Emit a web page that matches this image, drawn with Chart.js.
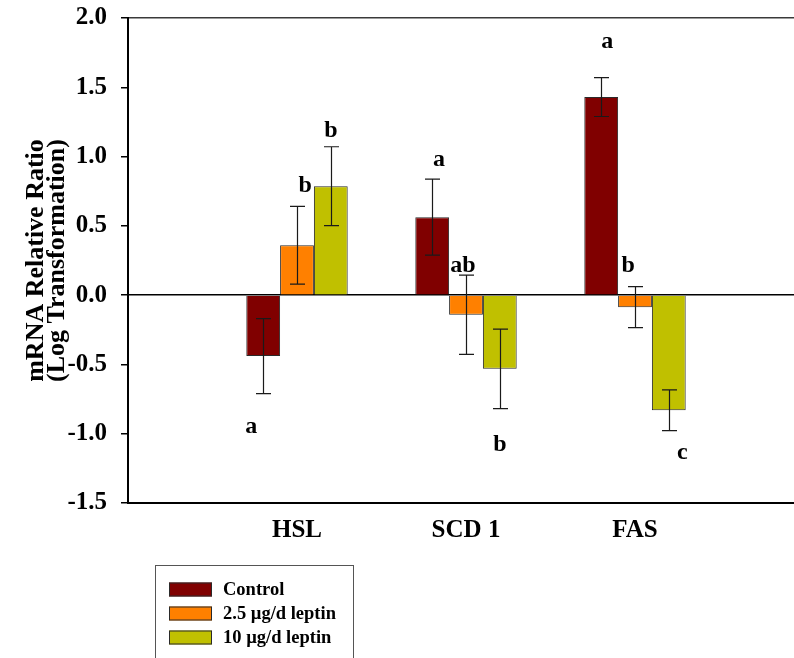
<!DOCTYPE html>
<html>
<head>
<meta charset="utf-8">
<script src="https://cdn.jsdelivr.net/npm/chart.js@4/dist/chart.umd.min.js"></script>
<style>
  html, body { margin: 0; padding: 0; background: #fff; overflow: hidden; }
  #wrap { position: absolute; left: 0; top: 0; width: 820px; height: 658px; }
</style>
</head>
<body>
<div id="wrap"><canvas id="chart" width="820" height="658"></canvas></div>
<script>
// Genes on the x axis.
var categories = ["HSL", "SCD 1", "FAS"];

// Series labels and colours.
var seriesNames = ["Control", "2.5 \u00b5g/d leptin", "10 \u00b5g/d leptin"];
var seriesColors = ["#800000", "#ff8000", "#c0c000"];

// Means (log transformation).
var controlValues = [-0.44, 0.563, 1.429];
var lowValues = [0.36, -0.142, -0.087];
var highValues = [0.786, -0.532, -0.83];

// Standard errors.
var controlErrors = [0.27, 0.274, 0.14];
var lowErrors = [0.28, 0.286, 0.148];
var highErrors = [0.285, 0.287, 0.147];

// Significance letters and the y value they sit at.
var controlLetters = ["a", "a", "a"];
var lowLetters = ["b", "ab", "b"];
var highLetters = ["b", "b", "c"];
var controlLetterY = [-0.95, 0.976, 1.828];
var lowLetterY = [0.79, 0.211, 0.211];
var highLetterY = [1.185, -1.08, -1.138];

// Y axis ticks.
var yMin = -1.5;
var yMax = 2.0;
var yStep = 0.5;

var FONT = '"Liberation Serif", "Times New Roman", serif';

// empty slot on each side, like the original plot
function pad(arr) {
  return [null].concat(arr, [null]);
}

var allValues = [controlValues, lowValues, highValues];
var allErrors = [controlErrors, lowErrors, highErrors];
var allLetters = [controlLetters, lowLetters, highLetters];
var allLetterY = [controlLetterY, lowLetterY, highLetterY];

// horizontal nudge of letters, in bar widths
var letterShift = [
  [-0.35, 0.2, 0.18],
  [0.24, -0.09, -0.2],
  [0, 0, 0.4],
];

var datasets = [];
for (var i = 0; i < allValues.length; i++) {
  datasets.push({
    label: seriesNames[i],
    data: pad(allValues[i]),
    errors: pad(allErrors[i]),
    letters: pad(allLetters[i]),
    letterY: pad(allLetterY[i]),
    backgroundColor: seriesColors[i],
    borderColor: "#2a2a2a",
    borderWidth: 1,
  });
}

// Error bars drawn over the bars.
var errorBarPlugin = {
  id: "errorBars",
  afterDatasetsDraw: function (chart) {
    var ctx = chart.ctx;
    var yScale = chart.scales.y;
    ctx.save();
    ctx.strokeStyle = "#1a1a1a";
    ctx.lineWidth = 1.2;
    chart.data.datasets.forEach(function (ds, di) {
      var meta = chart.getDatasetMeta(di);
      meta.data.forEach(function (bar, j) {
        var v = ds.data[j];
        var e = ds.errors[j];
        if (v === null || e === null) return;
        var x = Math.round(bar.x) + 0.5;
        var yTop = yScale.getPixelForValue(v + e);
        var yBot = yScale.getPixelForValue(v - e);
        var cap = 7.5;
        ctx.beginPath();
        ctx.moveTo(x, yTop);
        ctx.lineTo(x, yBot);
        ctx.moveTo(x - cap, yTop);
        ctx.lineTo(x + cap, yTop);
        ctx.moveTo(x - cap, yBot);
        ctx.lineTo(x + cap, yBot);
        ctx.stroke();
      });
    });
    ctx.restore();
  },
};

// Significance letters.
var letterPlugin = {
  id: "letters",
  afterDatasetsDraw: function (chart) {
    var ctx = chart.ctx;
    var yScale = chart.scales.y;
    ctx.save();
    ctx.fillStyle = "#000";
    ctx.font = "bold 24px " + FONT;
    ctx.textAlign = "center";
    ctx.textBaseline = "middle";
    chart.data.datasets.forEach(function (ds, di) {
      var meta = chart.getDatasetMeta(di);
      meta.data.forEach(function (bar, j) {
        var t = ds.letters[j];
        if (!t) return;
        var x = bar.x + letterShift[di][j - 1] * bar.width;
        var y = yScale.getPixelForValue(ds.letterY[j]);
        ctx.fillText(t, x, y);
      });
    });
    ctx.restore();
  },
};

// Boxed legend at the bottom left.
var legendBoxPlugin = {
  id: "legendBox",
  afterDraw: function (chart) {
    var ctx = chart.ctx;
    ctx.save();
    ctx.strokeStyle = "#555";
    ctx.lineWidth = 1;
    ctx.strokeRect(155.5, 565.5, 198, 120);
    ctx.font = "bold 18.5px " + FONT;
    ctx.textAlign = "left";
    ctx.textBaseline = "middle";
    chart.data.datasets.forEach(function (ds, i) {
      var cy = 589.5 + i * 24;
      ctx.fillStyle = ds.backgroundColor;
      ctx.fillRect(169, cy - 7, 43, 14);
      ctx.strokeStyle = "#2a2a2a";
      ctx.strokeRect(169.5, cy - 6.5, 42, 13);
      ctx.fillStyle = "#000";
      ctx.fillText(ds.label, 223, cy + 1);
    });
    ctx.restore();
  },
};

var ctx = document.getElementById("chart").getContext("2d");
new Chart(ctx, {
  type: "bar",
  data: {
    labels: pad(categories).map(function (c) { return c || ""; }),
    datasets: datasets,
  },
  options: {
    responsive: false,
    animation: false,
    layout: {
      padding: { top: 18, right: 16, left: 0, bottom: 0 },
    },
    datasets: {
      bar: {
        categoryPercentage: 0.6,
        barPercentage: 1.0,
      },
    },
    plugins: {
      legend: { display: false },
      tooltip: { enabled: false },
    },
    scales: {
      x: {
        offset: false,
        grid: { display: false, drawTicks: false },
        border: { display: true, color: "#000", width: 2 },
        ticks: {
          autoSkip: false,
          maxRotation: 0,
          padding: 13,
          color: "#000",
          font: { family: FONT, size: 25, weight: "bold" },
        },
        afterFit: function (scale) {
          scale.height = 155;
          scale.paddingLeft = 0;
          scale.paddingRight = 0;
        },
      },
      y: {
        min: yMin,
        max: yMax,
        ticks: {
          stepSize: yStep,
          padding: 14,
          color: "#000",
          font: { family: FONT, size: 25, weight: "bold" },
          callback: function (v) {
            return Number(v).toFixed(1);
          },
        },
        grid: {
          drawOnChartArea: true,
          drawTicks: true,
          tickLength: 7,
          tickColor: "#000",
          tickWidth: 1.5,
          lineWidth: 1.5,
          color: function (c) {
            if (c.tick && c.tick.value === 0) return "#000";
            if (c.tick && c.tick.value === yMax) return "#3a3a3a";
            return "rgba(0,0,0,0)";
          },
        },
        border: { display: true, color: "#000", width: 2 },
        title: {
          display: true,
          text: ["mRNA Relative Ratio", "(Log Transformation)"],
          color: "#000",
          padding: { top: 26, bottom: 0 },
          font: { family: FONT, size: 26, weight: "bold", lineHeight: 0.8 },
        },
        afterFit: function (scale) {
          scale.width = 128;
          scale.paddingTop = 0;
          scale.paddingBottom = 0;
        },
      },
    },
  },
  plugins: [errorBarPlugin, letterPlugin, legendBoxPlugin],
});
</script>
</body>
</html>
